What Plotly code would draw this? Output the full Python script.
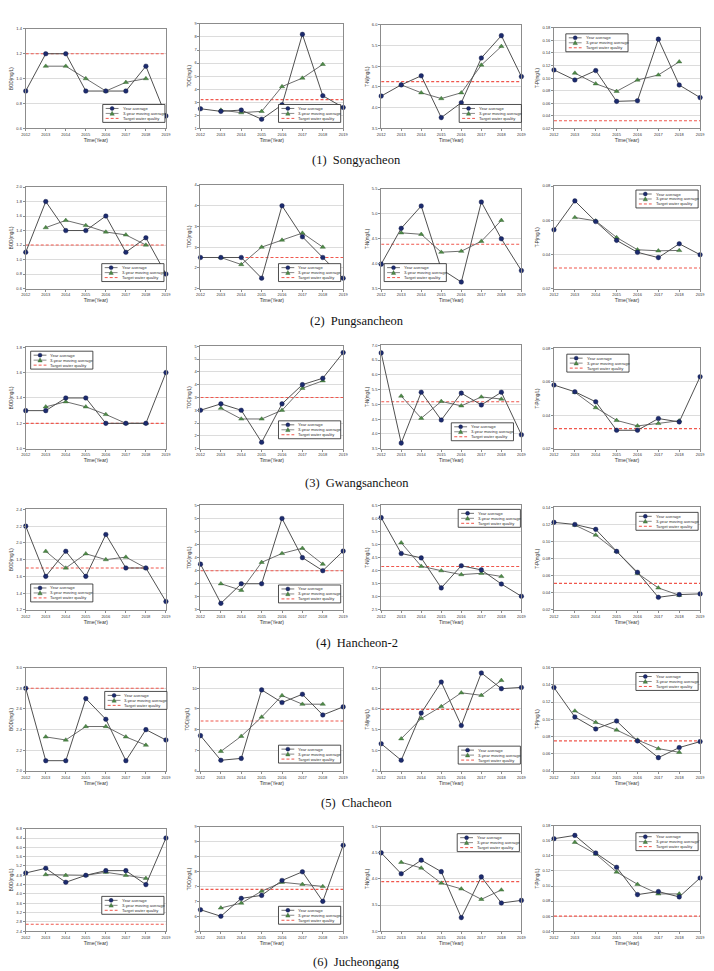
import plotly.graph_objects as go

W, H = 714, 971
years = [2012, 2013, 2014, 2015, 2016, 2017, 2018, 2019]
captions = ["(1)  Songyacheon", "(2)  Pungsancheon", "(3)  Gwangsancheon",
            "(4)  Hancheon-2", "(5)  Chacheon", "(6)  Jucheongang"]
ytitles = ["BOD(mg/L)", "TOC(mg/L)", "T-N(mg/L)", "T-P(mg/L)"]
legend_labels = ["Year average", "3-year moving average", "Target water quality"]

# ---------------- (1) Songyacheon ----------------
songya_bod_avg = [0.9, 1.2, 1.2, 0.9, 0.9, 0.9, 1.1, 0.7]
songya_bod_ma = [None, 1.1, 1.1, 1.0, 0.9, 0.97, 1.0, None]
songya_bod_target = 1.2
songya_bod_ticks = [0.6, 0.8, 1.0, 1.2, 1.4]
songya_bod_labels = ["0.6", "0.8", "1.0", "1.2", "1.4"]

songya_toc_avg = [2.5, 2.3, 2.4, 1.7, 2.8, 8.2, 3.5, 2.6]
songya_toc_ma = [None, 2.4, 2.2, 2.3, 4.2, 4.85, 5.9, None]
songya_toc_target = 3.2
songya_toc_ticks = [1, 2, 3, 4, 5, 6, 7, 8, 9]
songya_toc_labels = ["1", "2", "3", "4", "5", "6", "7", "8", "9"]

songya_tn_avg = [4.28, 4.55, 4.77, 3.76, 4.12, 5.2, 5.74, 4.75]
songya_tn_ma = [None, 4.55, 4.36, 4.22, 4.36, 5.03, 5.48, None]
songya_tn_target = 4.63
songya_tn_ticks = [3.5, 4.0, 4.5, 5.0, 5.5, 6.0]
songya_tn_labels = ["3.5", "4.0", "4.5", "5.0", "5.5", "6.0"]

songya_tp_avg = [0.113, 0.097, 0.112, 0.063, 0.064, 0.162, 0.089, 0.069]
songya_tp_ma = [None, 0.108, 0.091, 0.079, 0.097, 0.105, 0.126, None]
songya_tp_target = 0.032
songya_tp_ticks = [0.02, 0.04, 0.06, 0.08, 0.10, 0.12, 0.14, 0.16, 0.18]
songya_tp_labels = ["0.02", "0.04", "0.06", "0.08", "0.10", "0.12", "0.14", "0.16", "0.18"]

# ---------------- (2) Pungsancheon ----------------
pungsan_bod_avg = [1.1, 1.8, 1.4, 1.4, 1.6, 1.1, 1.3, 0.8]
pungsan_bod_ma = [None, 1.44, 1.54, 1.47, 1.38, 1.34, 1.2, None]
pungsan_bod_target = 1.2
pungsan_bod_ticks = [0.6, 0.8, 1.0, 1.2, 1.4, 1.6, 1.8, 2.0]
pungsan_bod_labels = ["0.6", "0.8", "1.0", "1.2", "1.4", "1.6", "1.8", "2.0"]

pungsan_toc_avg = [2.25, 2.25, 2.25, 1.75, 3.5, 2.75, 2.25, 1.75]
pungsan_toc_ma = [None, 2.25, 2.08, 2.5, 2.67, 2.84, 2.5, None]
pungsan_toc_target = 2.25
pungsan_toc_ticks = [1.5, 2.0, 2.5, 3.0, 3.5, 4.0]
pungsan_toc_labels = ["2", "2", "3", "3", "4", "4"]

pungsan_tn_avg = [3.99, 4.71, 5.16, 3.89, 3.63, 5.24, 4.5, 3.86]
pungsan_tn_ma = [None, 4.62, 4.59, 4.23, 4.25, 4.45, 4.87, None]
pungsan_tn_target = 4.39
pungsan_tn_ticks = [3.5, 4.0, 4.5, 5.0, 5.5]
pungsan_tn_labels = ["3.5", "4.0", "4.5", "5.0", "5.5"]

pungsan_tp_avg = [0.0544, 0.0713, 0.0592, 0.0482, 0.0412, 0.0381, 0.0462, 0.0398]
pungsan_tp_ma = [None, 0.0616, 0.0596, 0.0499, 0.0427, 0.0421, 0.0423, None]
pungsan_tp_target = 0.032
pungsan_tp_ticks = [0.02, 0.04, 0.06, 0.08]
pungsan_tp_labels = ["0.02", "0.04", "0.06", "0.08"]

# ---------------- (3) Gwangsancheon ----------------
gwangsan_bod_avg = [1.3, 1.3, 1.4, 1.4, 1.2, 1.2, 1.2, 1.6]
gwangsan_bod_ma = [None, 1.33, 1.37, 1.33, 1.27, 1.2, 1.2, None]
gwangsan_bod_target = 1.2
gwangsan_bod_ticks = [1.0, 1.2, 1.4, 1.6, 1.8]
gwangsan_bod_labels = ["1.0", "1.2", "1.4", "1.6", "1.8"]

gwangsan_toc_avg = [2.5, 2.75, 2.5, 1.25, 2.75, 3.5, 3.75, 4.75]
gwangsan_toc_ma = [None, 2.58, 2.16, 2.16, 2.5, 3.36, 3.65, None]
gwangsan_toc_target = 3.0
gwangsan_toc_ticks = [1.0, 1.5, 2.0, 2.5, 3.0, 3.5, 4.0, 4.5, 5.0]
gwangsan_toc_labels = ["1", "2", "2", "3", "3", "4", "4", "5", "5"]

gwangsan_tn_avg = [6.74, 3.69, 5.41, 4.47, 5.38, 4.98, 5.41, 3.97]
gwangsan_tn_ma = [None, 5.28, 4.53, 5.1, 4.95, 5.25, 5.18, None]
gwangsan_tn_target = 5.09
gwangsan_tn_ticks = [3.5, 4.0, 4.5, 5.0, 5.5, 6.0, 6.5, 7.0]
gwangsan_tn_labels = ["3.5", "4.0", "4.5", "5.0", "5.5", "6.0", "6.5", "7.0"]

gwangsan_tp_avg = [0.058, 0.054, 0.048, 0.031, 0.031, 0.038, 0.036, 0.063]
gwangsan_tp_ma = [None, 0.0537, 0.0445, 0.0369, 0.0336, 0.0351, 0.0367, None]
gwangsan_tp_target = 0.032
gwangsan_tp_ticks = [0.02, 0.04, 0.06, 0.08]
gwangsan_tp_labels = ["0.02", "0.04", "0.06", "0.08"]

# ---------------- (4) Hancheon-2 ----------------
hancheon_bod_avg = [2.2, 1.6, 1.9, 1.6, 2.1, 1.7, 1.7, 1.3]
hancheon_bod_ma = [None, 1.9, 1.7, 1.87, 1.8, 1.83, 1.7, None]
hancheon_bod_target = 1.7
hancheon_bod_ticks = [1.2, 1.4, 1.6, 1.8, 2.0, 2.2, 2.4]
hancheon_bod_labels = ["1.2", "1.4", "1.6", "1.8", "2.0", "2.2", "2.4"]

hancheon_toc_avg = [3.875, 3.125, 3.5, 3.5, 4.75, 4.0, 3.75, 4.125]
hancheon_toc_ma = [None, 3.5, 3.375, 3.91, 4.08, 4.18, 3.875, None]
hancheon_toc_target = 3.75
hancheon_toc_ticks = [3.0, 3.25, 3.5, 3.75, 4.0, 4.25, 4.5, 4.75, 5.0]
hancheon_toc_labels = ["3", "3", "4", "4", "4", "4", "5", "5", "5"]

hancheon_tn_avg = [6.03, 4.66, 4.49, 3.34, 4.19, 4.03, 3.49, 3.02]
hancheon_tn_ma = [None, 5.07, 4.17, 4.0, 3.85, 3.9, 3.78, None]
hancheon_tn_target = 4.16
hancheon_tn_ticks = [2.5, 3.0, 3.5, 4.0, 4.5, 5.0, 5.5, 6.0, 6.5]
hancheon_tn_labels = ["2.5", "3.0", "3.5", "4.0", "4.5", "5.0", "5.5", "6.0", "6.5"]

hancheon_tp_avg = [0.1225, 0.120, 0.1143, 0.0885, 0.064, 0.0347, 0.0379, 0.0387]
hancheon_tp_ma = [None, 0.1193, 0.1076, 0.0885, 0.0629, 0.0457, 0.0371, None]
hancheon_tp_target = 0.051
hancheon_tp_ticks = [0.02, 0.04, 0.06, 0.08, 0.10, 0.12, 0.14]
hancheon_tp_labels = ["0.02", "0.04", "0.06", "0.08", "0.10", "0.12", "0.14"]

# ---------------- (5) Chacheon ----------------
cha_bod_avg = [2.8, 2.1, 2.1, 2.7, 2.5, 2.1, 2.4, 2.3]
cha_bod_ma = [None, 2.33, 2.3, 2.43, 2.43, 2.33, 2.25, None]
cha_bod_target = 2.8
cha_bod_ticks = [2.0, 2.2, 2.4, 2.6, 2.8, 3.0]
cha_bod_labels = ["2.0", "2.2", "2.4", "2.6", "2.8", "3.0"]

cha_toc_avg = [7.71, 6.52, 6.61, 9.92, 9.31, 9.71, 8.71, 9.1]
cha_toc_ma = [None, 6.95, 7.68, 8.61, 9.65, 9.23, 9.23, None]
cha_toc_target = 8.42
cha_toc_ticks = [6, 7, 8, 9, 10, 11]
cha_toc_labels = ["6", "7", "8", "9", "10", "11"]

cha_tn_avg = [5.16, 4.76, 5.9, 6.65, 5.6, 6.87, 6.49, 6.52]
cha_tn_ma = [None, 5.28, 5.77, 6.06, 6.39, 6.33, 6.69, None]
cha_tn_target = 5.99
cha_tn_ticks = [4.5, 5.0, 5.5, 6.0, 6.5, 7.0]
cha_tn_labels = ["4.5", "5.0", "5.5", "6.0", "6.5", "7.0"]

cha_tp_avg = [0.1368, 0.1027, 0.0888, 0.098, 0.0749, 0.0555, 0.0672, 0.0741]
cha_tp_ma = [None, 0.1097, 0.0964, 0.0876, 0.076, 0.066, 0.0617, None]
cha_tp_target = 0.075
cha_tp_ticks = [0.04, 0.06, 0.08, 0.10, 0.12, 0.14, 0.16]
cha_tp_labels = ["0.04", "0.06", "0.08", "0.10", "0.12", "0.14", "0.16"]

# ---------------- (6) Jucheongang ----------------
jucheon_bod_avg = [4.9, 5.1, 4.5, 4.8, 5.0, 5.0, 4.4, 6.4]
jucheon_bod_ma = [None, 4.83, 4.8, 4.8, 4.93, 4.8, 4.67, None]
jucheon_bod_target = 2.7
jucheon_bod_ticks = [2.4, 2.8, 3.2, 3.6, 4.0, 4.4, 4.8, 5.2, 5.6, 6.0, 6.4, 6.8]
jucheon_bod_labels = ["2.4", "2.8", "3.2", "3.6", "4.0", "4.4", "4.8", "5.2", "5.6", "6.0", "6.4", "6.8"]

jucheon_toc_avg = [6.22, 6.0, 6.6, 6.7, 7.2, 7.49, 6.5, 8.38]
jucheon_toc_ma = [None, 6.28, 6.44, 6.84, 7.14, 7.07, 7.0, None]
jucheon_toc_target = 6.9
jucheon_toc_ticks = [5.5, 6.0, 6.5, 7.0, 7.5, 8.0, 8.5, 9.0]
jucheon_toc_labels = ["6", "6", "7", "7", "8", "8", "9", "9"]

jucheon_tn_avg = [4.5, 4.1, 4.36, 4.14, 3.26, 4.04, 3.54, 3.59]
jucheon_tn_ma = [None, 4.32, 4.21, 3.92, 3.81, 3.61, 3.79, None]
jucheon_tn_target = 3.95
jucheon_tn_ticks = [3.0, 3.5, 4.0, 4.5, 5.0]
jucheon_tn_labels = ["3.0", "3.5", "4.0", "4.5", "5.0"]

jucheon_tp_avg = [0.1628, 0.1672, 0.1438, 0.1248, 0.0886, 0.0926, 0.0855, 0.1107]
jucheon_tp_ma = [None, 0.158, 0.1425, 0.1186, 0.1023, 0.0895, 0.0895, None]
jucheon_tp_target = 0.06
jucheon_tp_ticks = [0.04, 0.06, 0.08, 0.10, 0.12, 0.14, 0.16, 0.18]
jucheon_tp_labels = ["0.04", "0.06", "0.08", "0.10", "0.12", "0.14", "0.16", "0.18"]

panels = [
    [(songya_bod_avg, songya_bod_ma, songya_bod_target, songya_bod_ticks, songya_bod_labels),
     (songya_toc_avg, songya_toc_ma, songya_toc_target, songya_toc_ticks, songya_toc_labels),
     (songya_tn_avg, songya_tn_ma, songya_tn_target, songya_tn_ticks, songya_tn_labels),
     (songya_tp_avg, songya_tp_ma, songya_tp_target, songya_tp_ticks, songya_tp_labels)],
    [(pungsan_bod_avg, pungsan_bod_ma, pungsan_bod_target, pungsan_bod_ticks, pungsan_bod_labels),
     (pungsan_toc_avg, pungsan_toc_ma, pungsan_toc_target, pungsan_toc_ticks, pungsan_toc_labels),
     (pungsan_tn_avg, pungsan_tn_ma, pungsan_tn_target, pungsan_tn_ticks, pungsan_tn_labels),
     (pungsan_tp_avg, pungsan_tp_ma, pungsan_tp_target, pungsan_tp_ticks, pungsan_tp_labels)],
    [(gwangsan_bod_avg, gwangsan_bod_ma, gwangsan_bod_target, gwangsan_bod_ticks, gwangsan_bod_labels),
     (gwangsan_toc_avg, gwangsan_toc_ma, gwangsan_toc_target, gwangsan_toc_ticks, gwangsan_toc_labels),
     (gwangsan_tn_avg, gwangsan_tn_ma, gwangsan_tn_target, gwangsan_tn_ticks, gwangsan_tn_labels),
     (gwangsan_tp_avg, gwangsan_tp_ma, gwangsan_tp_target, gwangsan_tp_ticks, gwangsan_tp_labels)],
    [(hancheon_bod_avg, hancheon_bod_ma, hancheon_bod_target, hancheon_bod_ticks, hancheon_bod_labels),
     (hancheon_toc_avg, hancheon_toc_ma, hancheon_toc_target, hancheon_toc_ticks, hancheon_toc_labels),
     (hancheon_tn_avg, hancheon_tn_ma, hancheon_tn_target, hancheon_tn_ticks, hancheon_tn_labels),
     (hancheon_tp_avg, hancheon_tp_ma, hancheon_tp_target, hancheon_tp_ticks, hancheon_tp_labels)],
    [(cha_bod_avg, cha_bod_ma, cha_bod_target, cha_bod_ticks, cha_bod_labels),
     (cha_toc_avg, cha_toc_ma, cha_toc_target, cha_toc_ticks, cha_toc_labels),
     (cha_tn_avg, cha_tn_ma, cha_tn_target, cha_tn_ticks, cha_tn_labels),
     (cha_tp_avg, cha_tp_ma, cha_tp_target, cha_tp_ticks, cha_tp_labels)],
    [(jucheon_bod_avg, jucheon_bod_ma, jucheon_bod_target, jucheon_bod_ticks, jucheon_bod_labels),
     (jucheon_toc_avg, jucheon_toc_ma, jucheon_toc_target, jucheon_toc_ticks, jucheon_toc_labels),
     (jucheon_tn_avg, jucheon_tn_ma, jucheon_tn_target, jucheon_tn_ticks, jucheon_tn_labels),
     (jucheon_tp_avg, jucheon_tp_ma, jucheon_tp_target, jucheon_tp_ticks, jucheon_tp_labels)],
]

# ---------------- layout geometry (pixels) ----------------
col_x = [(22, 164), (199, 343.5), (382, 524), (557, 705)]
row_tops = [[26, 21, 22, 25], [185, 183, 187, 184], [346, 345, 344, 347],
            [509, 505, 505, 507], [668, 668, 668, 668], [830, 828, 828, 827]]
row_bottoms = [126, 287, 448, 610, 772, 933]
caption_y = [158, 320, 482, 643, 804, 964]
legend_pos = [
    [(100, 102), (278, 102), (461, 102), (569, 31)],
    [(99, 262), (278, 262), (385, 262), (640, 188)],
    [(27, 350), (278, 420), (453, 422), (570, 353)],
    [(27, 584), (278, 585), (460, 509), (640, 512)],
    [(102, 692), (278, 746), (460, 747), (640, 673)],
    [(99, 898), (278, 908), (459, 835), (640, 834)],
]
LEG_W, LEG_H = 63, 18

AVG_LINE = "#505050"
AVG_MARK = "#1c2b6e"
MA_LINE = "#6e6e6e"
MA_MARK = "#4f8a48"
TGT = "#f0574d"
FRAME = "#8c8c8c"
GRID = "#dcdcdc"
TXT = "#333333"
FONT = "Liberation Sans, Arial, sans-serif"
TGT_DASH = "3px,2px"


def fx(x):
    return x / W


def fy(y):
    return 1 - y / H


fig = go.Figure()
layout = dict(
    width=W, height=H, autosize=False,
    margin=dict(l=0, r=0, t=0, b=0),
    paper_bgcolor="white", plot_bgcolor="white",
    showlegend=False,
    font=dict(family=FONT, color=TXT),
)
shapes = []
annotations = []

n = 0
for r in range(6):
    for c in range(4):
        n += 1
        avg, ma, target, ticks, labels = panels[r][c]
        xs = "x" if n == 1 else f"x{n}"
        ys = "y" if n == 1 else f"y{n}"
        xk = "xaxis" if n == 1 else f"xaxis{n}"
        yk = "yaxis" if n == 1 else f"yaxis{n}"

        fig.add_trace(go.Scatter(
            x=[years[0], years[-1]], y=[target, target], mode="lines",
            line=dict(color=TGT, width=1.1, dash=TGT_DASH),
            xaxis=xs, yaxis=ys, hoverinfo="skip", cliponaxis=False))
        fig.add_trace(go.Scatter(
            x=years, y=ma, mode="lines+markers",
            line=dict(color=MA_LINE, width=1),
            marker=dict(symbol="triangle-up", size=4.6, color=MA_MARK,
                        line=dict(color="#2e5a2a", width=0.4)),
            xaxis=xs, yaxis=ys, cliponaxis=False, connectgaps=False))
        fig.add_trace(go.Scatter(
            x=years, y=avg, mode="lines+markers",
            line=dict(color=AVG_LINE, width=1),
            marker=dict(symbol="circle", size=4.6, color=AVG_MARK,
                        line=dict(color="#0e1640", width=0.4)),
            xaxis=xs, yaxis=ys, cliponaxis=False))

        x0, x1 = col_x[c]
        y0, y1 = row_tops[r][c], row_bottoms[r]
        layout[xk] = dict(
            domain=[fx(x0), fx(x1)], anchor=ys, range=[years[0], years[-1]],
            tickvals=years, ticktext=[str(v) for v in years],
            ticks="outside", ticklen=2, tickwidth=0.6, tickcolor=FRAME,
            tickfont=dict(size=4, family=FONT, color=TXT),
            showline=True, mirror=True, linecolor=FRAME, linewidth=1,
            showgrid=False, zeroline=False,
            title=dict(text="Time(Year)", font=dict(size=5, family=FONT, color=TXT), standoff=2),
        )
        layout[yk] = dict(
            domain=[fy(y1), fy(y0)], anchor=xs, range=[ticks[0], ticks[-1]],
            tickvals=ticks, ticktext=labels,
            ticks="outside", ticklen=2, tickwidth=0.6, tickcolor=FRAME,
            tickfont=dict(size=4, family=FONT, color=TXT),
            showline=True, mirror=True, linecolor=FRAME, linewidth=1,
            showgrid=True, gridcolor=GRID, gridwidth=0.8, zeroline=False,
            title=dict(text=ytitles[c], font=dict(size=4.5, family=FONT, color=TXT), standoff=2),
        )

        # hand-drawn compact legend box (Plotly's native legend rows are too tall)
        lx, ly = legend_pos[r][c]
        shapes.append(dict(type="rect", xref="paper", yref="paper",
                           x0=fx(lx), x1=fx(lx + LEG_W), y0=fy(ly + LEG_H), y1=fy(ly),
                           fillcolor="white", line=dict(color="#222222", width=0.8), layer="above"))
        for i, lab in enumerate(legend_labels):
            yy = ly + 4 + i * 5
            if i == 2:
                shapes.append(dict(type="line", xref="paper", yref="paper",
                                   x0=fx(lx + 3), x1=fx(lx + 16), y0=fy(yy), y1=fy(yy),
                                   line=dict(color=TGT, width=1, dash=TGT_DASH), layer="above"))
            else:
                shapes.append(dict(type="line", xref="paper", yref="paper",
                                   x0=fx(lx + 3), x1=fx(lx + 16), y0=fy(yy), y1=fy(yy),
                                   line=dict(color=AVG_LINE if i == 0 else MA_LINE, width=0.8),
                                   layer="above"))
            if i == 0:
                shapes.append(dict(type="circle", xref="paper", yref="paper",
                                   x0=fx(lx + 7.5), x1=fx(lx + 11.5), y0=fy(yy + 2), y1=fy(yy - 2),
                                   fillcolor=AVG_MARK, line=dict(color="#0e1640", width=0.4),
                                   layer="above"))
            elif i == 1:
                path = (f"M {fx(lx + 7.3)} {fy(yy + 1.8)} L {fx(lx + 11.7)} {fy(yy + 1.8)} "
                        f"L {fx(lx + 9.5)} {fy(yy - 2.2)} Z")
                shapes.append(dict(type="path", xref="paper", yref="paper", path=path,
                                   fillcolor=MA_MARK, line=dict(color="#2e5a2a", width=0.4),
                                   layer="above"))
            annotations.append(dict(
                x=fx(lx + 18), y=fy(yy), xref="paper", yref="paper",
                text=lab, showarrow=False, xanchor="left", yanchor="middle",
                font=dict(size=4.2, family=FONT, color=TXT)))

    annotations.append(dict(
        x=0.5, y=fy(caption_y[r]), xref="paper", yref="paper",
        text=captions[r], showarrow=False, xanchor="center", yanchor="middle",
        font=dict(size=12.5, family="Liberation Serif, Times New Roman, serif", color="#111111")))

layout["shapes"] = shapes
layout["annotations"] = annotations
fig.update_layout(**layout)
fig.write_html("out.html")
